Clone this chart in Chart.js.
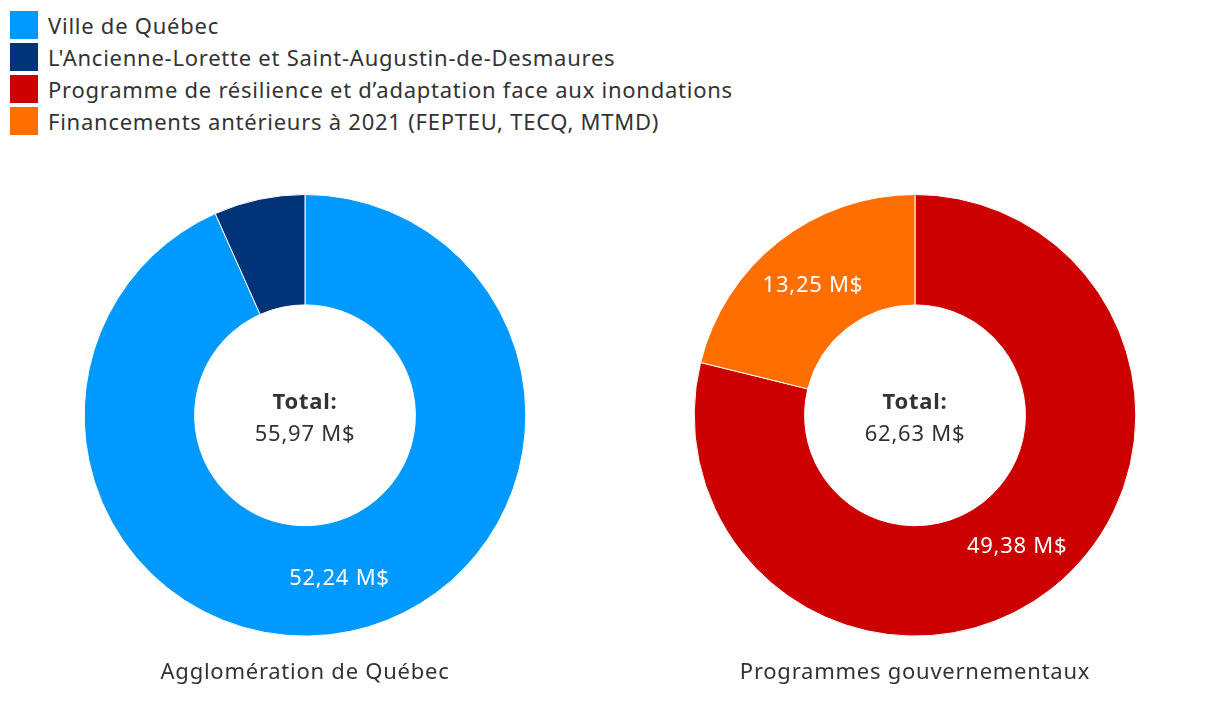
<!DOCTYPE html>
<html lang="fr">
<head>
  <meta charset="utf-8">
  <title>Financement</title>
  <script src="https://cdn.jsdelivr.net/npm/chart.js@4.4.1/dist/chart.umd.min.js"></script>
  <style>
    body{ margin:0; background:#fff; font-family:"Noto Sans", sans-serif; color:#333; }
    #legend{ position:absolute; left:10px; top:9px; }
    #legend .item{ height:32px; display:flex; align-items:center; font-size:22px; letter-spacing:0.75px; }
    #legend .box{ width:28px; height:28px; margin-right:10px; }
    .wrap{ position:absolute; top:194px; width:610px; height:502px; }
  </style>
</head>
<body>
  <div id="legend"></div>
  <div class="wrap" style="left:0"><canvas id="chart_agglo"></canvas></div>
  <div class="wrap" style="left:610px"><canvas id="chart_prog"></canvas></div>

  <script>
    // legend entries (both charts)
    var legend_labels = [
      "Ville de Québec",
      "L'Ancienne-Lorette et Saint-Augustin-de-Desmaures",
      "Programme de résilience et d’adaptation face aux inondations",
      "Financements antérieurs à 2021 (FEPTEU, TECQ, MTMD)"
    ];
    var legend_colors = ["#0099ff", "#003378", "#cc0000", "#ff6e00"];

    // Agglomération de Québec
    var agglo_labels = ["Ville de Québec", "L'Ancienne-Lorette et Saint-Augustin-de-Desmaures"];
    var agglo_values = [52.24, 3.73];
    var agglo_colors = ["#0099ff", "#003378"];

    // Programmes gouvernementaux
    var prog_labels = ["Programme de résilience et d’adaptation face aux inondations", "Financements antérieurs à 2021 (FEPTEU, TECQ, MTMD)"];
    var prog_values = [49.38, 13.25];
    var prog_colors = ["#cc0000", "#ff6e00"];

    var FONT = "'Noto Sans', sans-serif";
    var SPACING = "0.75px";

    var leg = document.getElementById("legend");
    for(var i=0;i<legend_labels.length;i++){
      var row = document.createElement("div");
      row.className = "item";
      row.innerHTML = '<span class="box" style="background:'+legend_colors[i]+'"></span><span></span>';
      row.lastChild.textContent = legend_labels[i];
      leg.appendChild(row);
    }

    function fmt(v){ return v.toFixed(2).replace(".", ",") + " M$"; }

    // wider letter spacing, center total + slice labels
    var donutText = {
      id: "donutText",
      beforeDraw: function(chart){
        chart.ctx.letterSpacing = SPACING;
      },
      afterDatasetsDraw: function(chart){
        var ctx = chart.ctx;
        var meta = chart.getDatasetMeta(0);
        var data = chart.data.datasets[0].data;
        var total = data.reduce(function(a,b){ return a+b; }, 0);
        var arc0 = meta.data[0];
        ctx.save();
        ctx.letterSpacing = SPACING;
        ctx.textAlign = "center";
        ctx.textBaseline = "middle";
        ctx.fillStyle = "#333";
        ctx.font = "bold 22px " + FONT;
        ctx.fillText("Total:", arc0.x, arc0.y - 13);
        ctx.font = "22px " + FONT;
        ctx.fillText(fmt(total), arc0.x, arc0.y + 19);
        ctx.fillStyle = "#fff";
        meta.data.forEach(function(arc, idx){
          if(data[idx] / total < 0.1) return;
          var p = arc.tooltipPosition();
          ctx.fillText(fmt(data[idx]), p.x, p.y + 1);
        });
        ctx.restore();
      }
    };

    function makeDonut(id, labels, values, colors, title){
      return new Chart(document.getElementById(id), {
        type: "doughnut",
        data: {
          labels: labels,
          datasets: [{ data: values, backgroundColor: colors, borderColor: "#fff", borderWidth: 1 }]
        },
        options: {
          responsive: true,
          maintainAspectRatio: false,
          animation: false,
          cutout: "50%",
          layout: { padding: 0 },
          plugins: {
            legend: { display: false },
            tooltip: { enabled: false },
            title: {
              display: true,
              position: "bottom",
              text: title,
              color: "#333",
              font: { family: FONT, size: 22, weight: "normal" },
              padding: { top: 23, bottom: 10 }
            }
          }
        },
        plugins: [donutText]
      });
    }

    makeDonut("chart_agglo", agglo_labels, agglo_values, agglo_colors, "Agglomération de Québec");
    makeDonut("chart_prog", prog_labels, prog_values, prog_colors, "Programmes gouvernementaux");
  </script>
</body>
</html>
